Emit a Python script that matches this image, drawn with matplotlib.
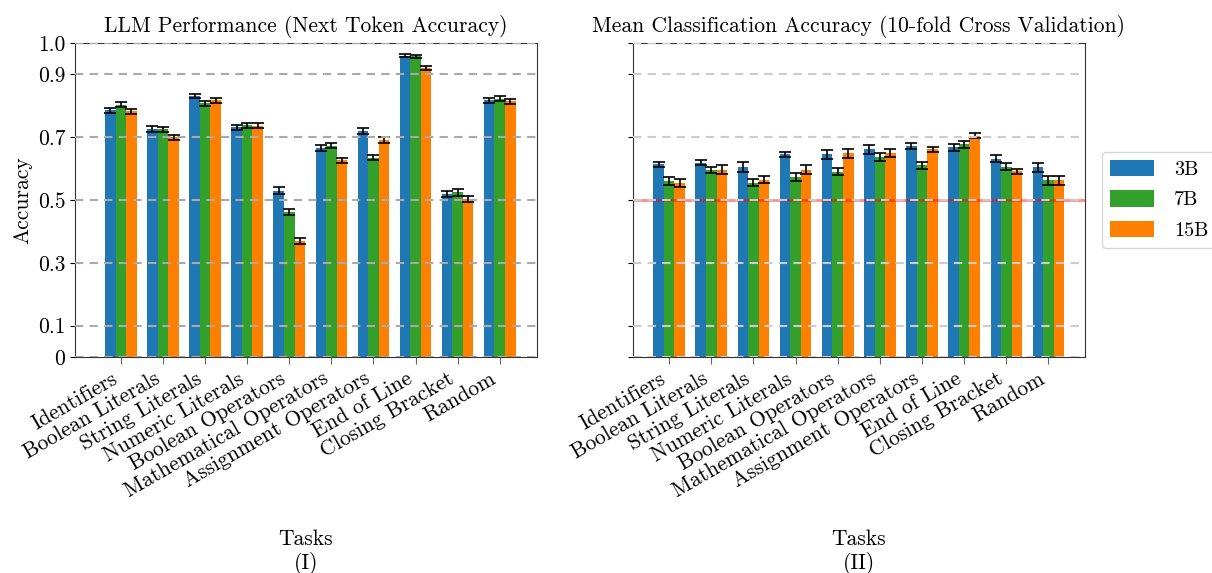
import numpy as np
import matplotlib
matplotlib.use("Agg")
import matplotlib.pyplot as plt

plt.rcParams['font.family'] = 'serif'
plt.rcParams['font.serif'] = ['cmr10', 'DejaVu Serif']
plt.rcParams['mathtext.fontset'] = 'cm'
plt.rcParams['axes.formatter.use_mathtext'] = True
plt.rcParams['font.size'] = 15.5

tasks = ["Identifiers", "Boolean Literals", "String Literals", "Numeric Literals",
         "Boolean Operators", "Mathematical Operators", "Assignment Operators",
         "End of Line", "Closing Bracket", "Random"]
models = ["3B", "7B", "15B"]
colors = ["#1f77b4", "#33a02c", "#ff7f00"]

# next token accuracy (I)
llm_3b = [0.785, 0.726, 0.832, 0.732, 0.530, 0.665, 0.720, 0.960, 0.520, 0.818]
llm_7b = [0.804, 0.725, 0.808, 0.738, 0.462, 0.673, 0.635, 0.957, 0.524, 0.822]
llm_15b = [0.783, 0.699, 0.817, 0.737, 0.369, 0.626, 0.692, 0.920, 0.502, 0.814]
llm_3b_err = [0.009, 0.009, 0.007, 0.008, 0.010, 0.009, 0.009, 0.004, 0.010, 0.008]
llm_7b_err = [0.008, 0.009, 0.008, 0.008, 0.009, 0.009, 0.009, 0.004, 0.010, 0.008]
llm_15b_err = [0.008, 0.009, 0.008, 0.008, 0.009, 0.009, 0.009, 0.006, 0.010, 0.008]

# classification accuracy (II)
cls_3b = [0.614, 0.619, 0.604, 0.645, 0.645, 0.661, 0.671, 0.668, 0.632, 0.604]
cls_7b = [0.561, 0.595, 0.555, 0.574, 0.590, 0.637, 0.611, 0.677, 0.606, 0.563]
cls_15b = [0.555, 0.597, 0.565, 0.597, 0.649, 0.649, 0.661, 0.705, 0.592, 0.563]
cls_3b_err = [0.008, 0.009, 0.016, 0.009, 0.013, 0.013, 0.009, 0.011, 0.012, 0.014]
cls_7b_err = [0.013, 0.010, 0.011, 0.012, 0.012, 0.012, 0.011, 0.010, 0.012, 0.014]
cls_15b_err = [0.013, 0.013, 0.010, 0.013, 0.014, 0.013, 0.008, 0.008, 0.008, 0.014]

yticks = [0, 0.1, 0.3, 0.5, 0.7, 0.9, 1.0]
ytick_labels = ["0", "0.1", "0.3", "0.5", "0.7", "0.9", "1.0"]

fig = plt.figure(figsize=(12.12, 5.73), dpi=100)
ax1 = fig.add_axes([0.0619, 0.377, 0.381, 0.548])
ax2 = fig.add_axes([0.522, 0.377, 0.373, 0.548], sharey=ax1)

x = np.arange(len(tasks))
w = 0.25

def draw(ax, vals, errs, grid_color, xlim):
    for i in range(len(models)):
        ax.bar(x + (i - 1) * w, vals[i], w, yerr=errs[i], color=colors[i], label=models[i],
               capsize=4, error_kw={'elinewidth': 1.2, 'capthick': 1.2, 'ecolor': 'black'}, zorder=2)
    for t in yticks:
        ax.axhline(t, color=grid_color, linestyle='--', linewidth=1.5, dashes=(4, 3), zorder=3)
    ax.set_xticks(x)
    ax.set_xticklabels(tasks, rotation=30, ha='right')
    ax.set_xlim(*xlim)
    ax.set_ylim(0, 1.0)
    ax.set_yticks(yticks)
    ax.tick_params(axis='x', color='#666666', length=5)
    for s in ax.spines.values():
        s.set_color('#333333')

draw(ax1, [llm_3b, llm_7b, llm_15b], [llm_3b_err, llm_7b_err, llm_15b_err], '#aaaaaa', (-1.09, 9.88))
ax1.set_yticklabels(ytick_labels)
ax1.set_ylabel("Accuracy")
ax1.set_title("LLM Performance (Next Token Accuracy)", fontsize=15.5, pad=8)
ax1.set_xlabel("Tasks\n(I)", labelpad=20)

ax2.axhline(0.5, color='red', alpha=0.45, linewidth=2, zorder=2.5)
draw(ax2, [cls_3b, cls_7b, cls_15b], [cls_3b_err, cls_7b_err, cls_15b_err], '#cccccc', (-0.865, 9.86))
ax2.tick_params(axis='y', labelleft=False)
ax2.set_title("Mean Classification Accuracy (10-fold Cross Validation)", fontsize=15.5, pad=8)
ax2.set_xlabel("Tasks\n(II)", labelpad=20)
ax2.legend(loc='center left', bbox_to_anchor=(1.015, 0.5), handlelength=2.2, handleheight=0.85,
           handletextpad=1.0, labelspacing=0.55, fontsize=14.5, edgecolor='#cccccc')

plt.savefig("out.png", dpi=100)
